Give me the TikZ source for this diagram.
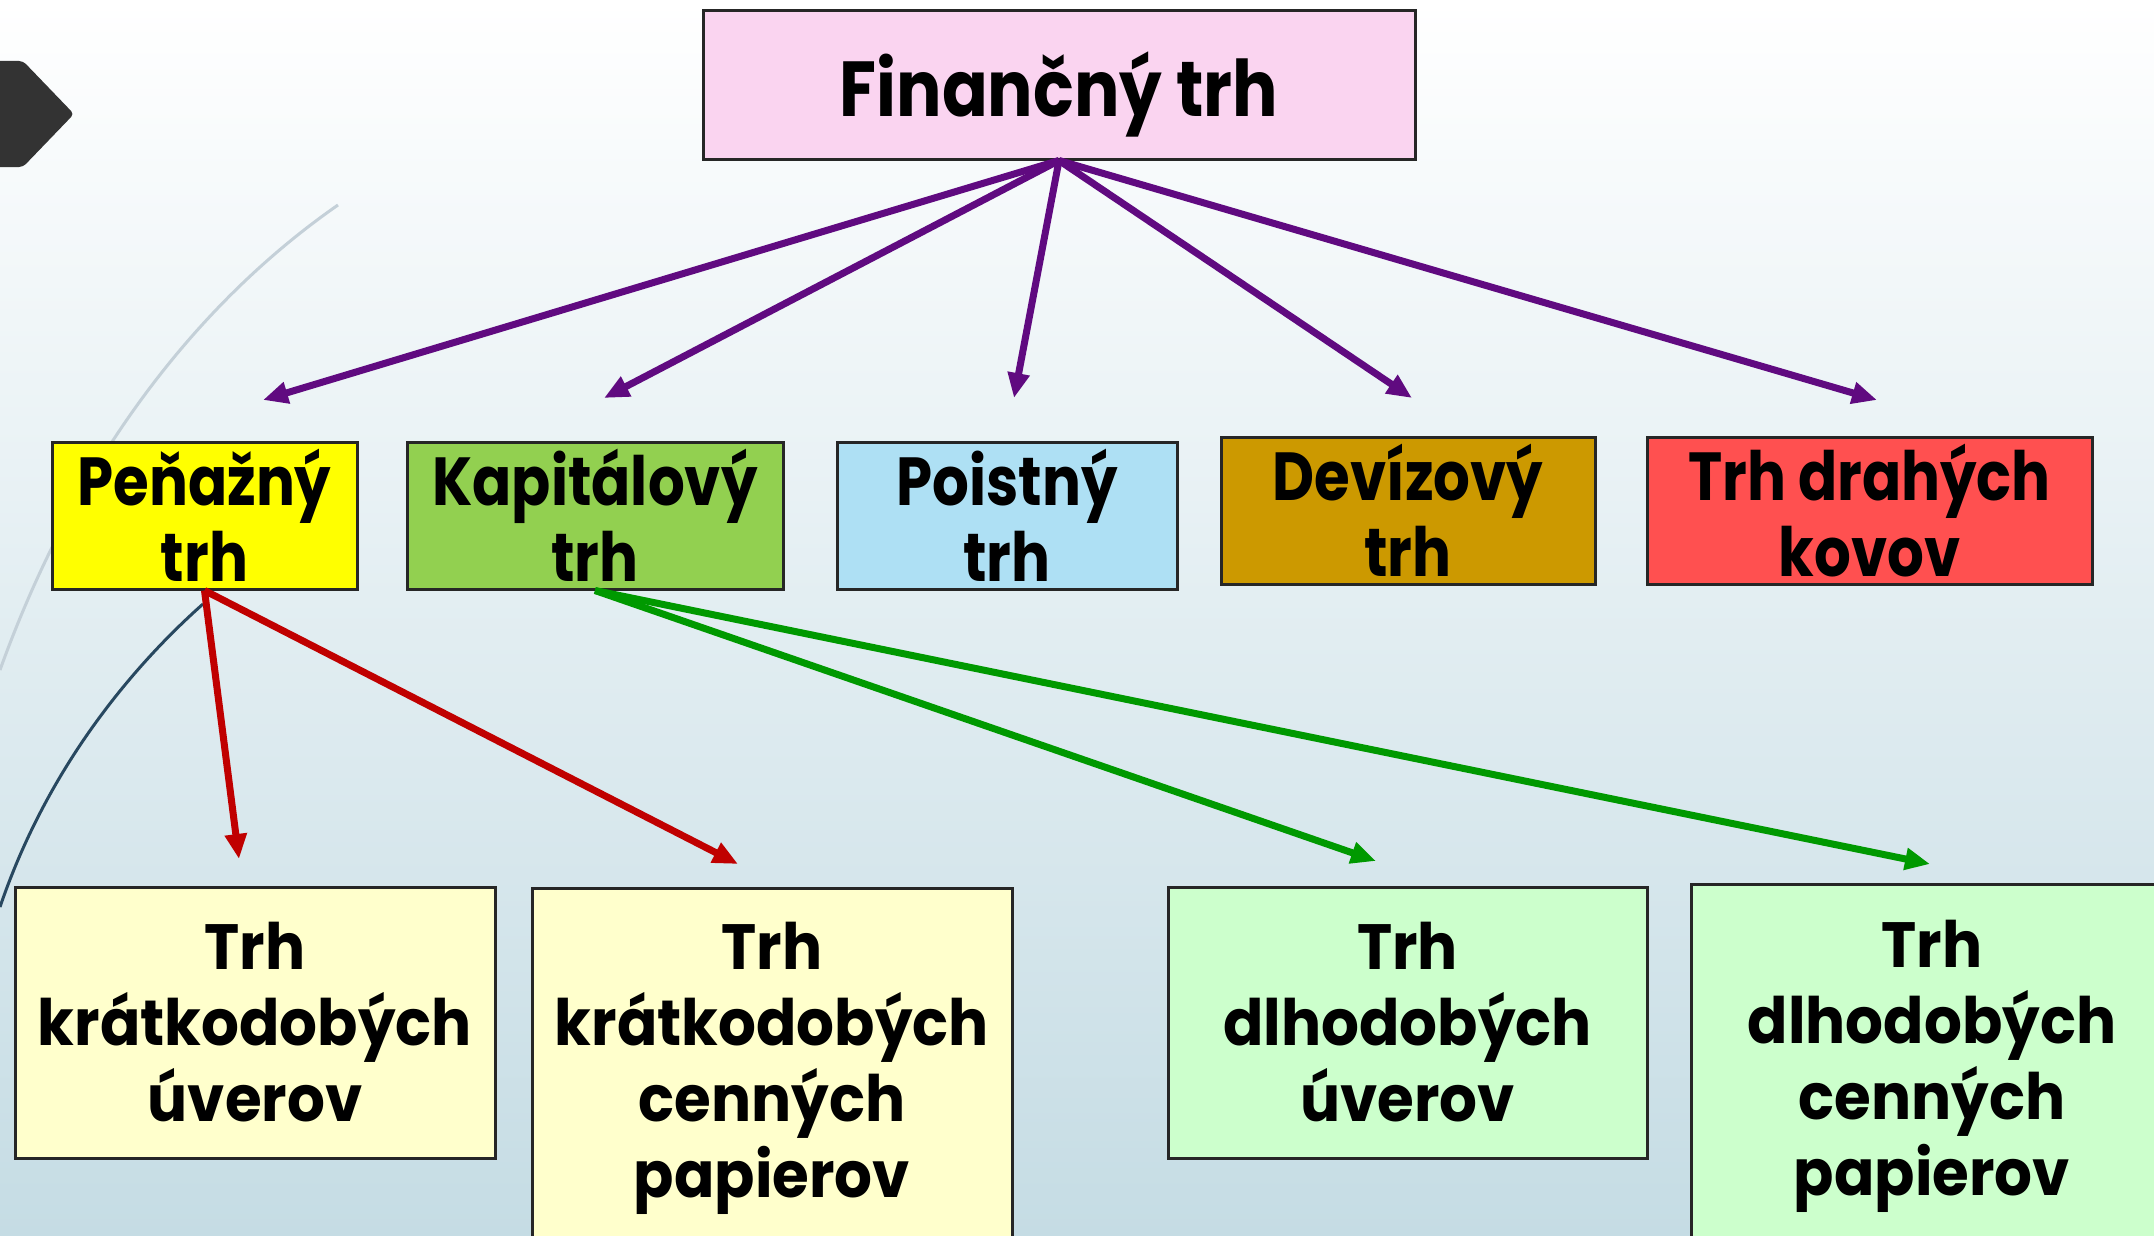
\documentclass[tikz,border=0pt]{standalone}
\usepackage{fontspec}
\setmainfont{Poppins}
\newfontfamily\fTop{Poppins}[FakeStretch=0.865]
\newfontfamily\fMid{Poppins}[FakeStretch=0.85]
\newfontfamily\fBot{Poppins}[FakeStretch=0.93]
\usetikzlibrary{arrows.meta}
\definecolor{bgtop}{RGB}{255,255,255}
\definecolor{bgbot}{RGB}{197,220,228}
\definecolor{cpink}{RGB}{250,212,240}
\definecolor{cyel}{RGB}{255,255,0}
\definecolor{cgreen}{RGB}{146,208,80}
\definecolor{cblue}{RGB}{174,224,244}
\definecolor{cgold}{RGB}{204,153,0}
\definecolor{cred}{RGB}{255,80,80}
\definecolor{clyel}{RGB}{255,255,204}
\definecolor{clgreen}{RGB}{204,255,204}
\definecolor{apurple}{RGB}{96,10,128}
\definecolor{ared}{RGB}{192,0,0}
\definecolor{agreen}{RGB}{0,153,0}
\definecolor{border}{RGB}{38,38,38}
\definecolor{arcl}{RGB}{196,208,216}
\definecolor{arcd}{RGB}{40,72,96}
\definecolor{pent}{RGB}{51,51,51}
\tikzset{
  box/.style={draw=border, line width=3pt, inner sep=0pt, align=center, text=black},
  toptext/.style={font=\fTop\bfseries\fontsize{78}{96}\selectfont, inner sep=0pt, anchor=base},
  midtext/.style={font=\fMid\bfseries\fontsize{68}{76}\selectfont},
  bottext/.style={font=\fBot\bfseries\fontsize{64}{76}\selectfont},
  conn/.style={line width=7pt, -{Triangle[length=25pt,width=21pt]}},
}
\begin{document}
\begin{tikzpicture}[x=1pt,y=-1pt]
\useasboundingbox (0,0) rectangle (2154,1236);
\shade[top color=bgtop, bottom color=bgbot] (0,0) rectangle (2154,1236);
% theme decorations
\draw[arcl, line width=3pt] (338,205) .. controls (230,280) and (90,420) .. (0,670);
\draw[arcd, line width=3pt] (203,604) .. controls (140,660) and (50,760) .. (0,907);
\fill[pent, rounded corners=4pt] (-10,61) -- (23,61) -- (74,114) -- (23,167) -- (-10,167) -- cycle;
% boxes
\node[box, fill=cpink, minimum width=712pt, minimum height=148pt] (top) at (1059,85) {};
\node[toptext] (toptxt) at (1059,117) {Finančný trh};
\node[box, fill=cyel, minimum width=305pt, minimum height=147pt, midtext] (pen) at (204.5,515.5) {Peňažný\\trh};
\node[box, fill=cgreen, minimum width=376pt, minimum height=147pt, midtext] (kap) at (595,515.5) {Kapitálový\\trh};
\node[box, fill=cblue, minimum width=340pt, minimum height=147pt, midtext] (poi) at (1007,515.5) {Poistný\\trh};
\node[box, fill=cgold, minimum width=374pt, minimum height=147pt, midtext] (dev) at (1408,510.5) {Devízový\\trh};
\node[box, fill=cred, minimum width=445pt, minimum height=147pt, midtext] (dra) at (1869.5,510.5) {Trh drahých\\kovov};
\node[box, fill=clyel, minimum width=480pt, minimum height=271pt, bottext] (b1) at (255,1022.5) {Trh\\krátkodobých\\úverov};
\node[box, fill=clyel, minimum width=480pt, minimum height=359pt, bottext] (b2) at (772,1068) {Trh\\krátkodobých\\cenných\\papierov};
\node[box, fill=clgreen, minimum width=479pt, minimum height=271pt, bottext] (b3) at (1407.5,1022.5) {Trh\\dlhodobých\\úverov};
\node[box, fill=clgreen, minimum width=482pt, minimum height=363pt, bottext] (b4) at (1932,1066) {Trh\\dlhodobých\\cenných\\papierov};
% arrow tips
\coordinate (p1) at (263,400);
\coordinate (p2) at (604,398);
\coordinate (p3) at (1014,398);
\coordinate (p4) at (1412,398);
\coordinate (p5) at (1877,400);
\coordinate (r1) at (239,859);
\coordinate (r2) at (738,864);
\coordinate (g1) at (1376,861);
\coordinate (g2) at (1930,864);
% connectors
\foreach \t in {p1,p2,p3,p4,p5} \draw[conn, apurple] (top.south) -- (\t);
\foreach \t in {r1,r2} \draw[conn, ared] (pen.south) -- (\t);
\foreach \t in {g1,g2} \draw[conn, agreen] (kap.south) -- (\t);
\end{tikzpicture}
\end{document}
